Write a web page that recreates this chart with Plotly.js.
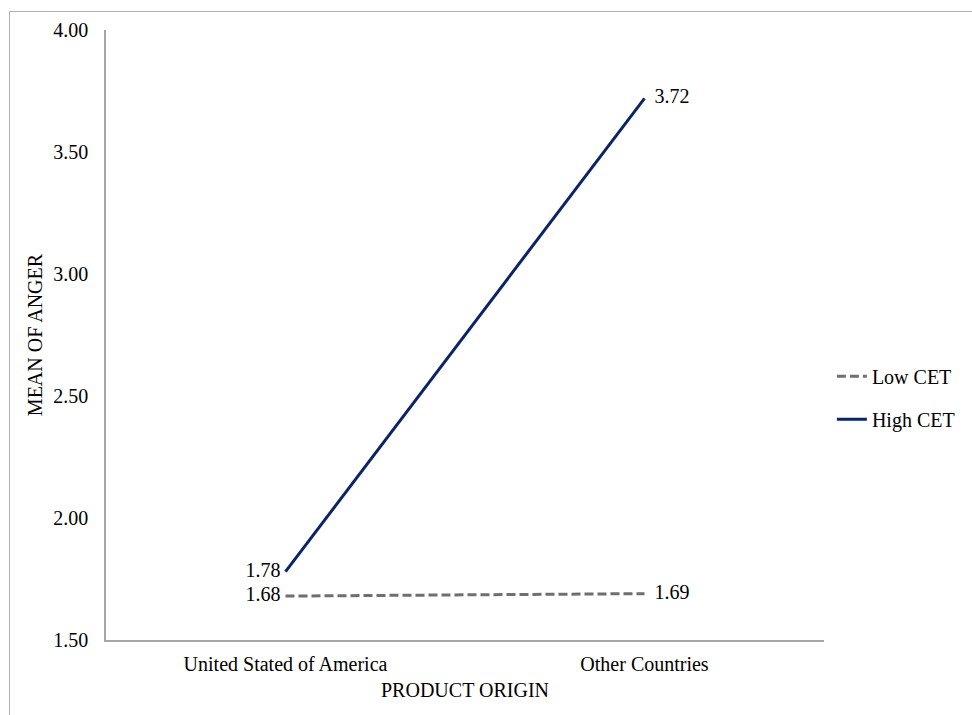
<!DOCTYPE html>
<html>
<head>
<meta charset="utf-8">
<script src="https://cdn.plot.ly/plotly-3.0.1.min.js"></script>
<style>
  html, body { margin: 0; padding: 0; background: #fff; }
  #wrap { position: relative; width: 972px; height: 715px; overflow: hidden; }
  #chart { position: absolute; left: 0; top: 0; width: 972px; height: 715px; }
  #frame { position: absolute; left: 9px; top: 11px; width: 990px; height: 740px;
           border: 1.5px solid #b0b0b0; pointer-events: none; box-sizing: border-box; }
</style>
</head>
<body>
<div id="wrap">
  <div id="chart"></div>
  <div id="frame"></div>
</div>
<script>
const categories = ["United Stated of America", "Other Countries"];
const lowCET = [1.68, 1.69];
const highCET = [1.78, 3.72];
const seriesNames = ["Low CET", "High CET"];
const yTicks = [1.5, 2.0, 2.5, 3.0, 3.5, 4.0];
const yTickLabels = ["1.50", "2.00", "2.50", "3.00", "3.50", "4.00"];

const font = "'Liberation Serif', 'Times New Roman', serif";
const NB = "\u00a0";
const labelText = vals => [vals[0].toFixed(2) + NB, NB + NB + vals[1].toFixed(2)];

const traces = [
  {
    x: categories, y: lowCET, name: seriesNames[0], type: "scatter",
    mode: "lines+text", legendgroup: "a",
    text: labelText(lowCET),
    textposition: ["middle left", "middle right"],
    textfont: { family: font, size: 20, color: "#000" },
    line: { color: "#6f6f6f", width: 3, dash: "9px,4px" },
    cliponaxis: false
  },
  {
    x: categories, y: highCET, name: seriesNames[1], type: "scatter",
    mode: "lines+text", legendgroup: "b",
    text: labelText(highCET),
    textposition: ["middle left", "middle right"],
    textfont: { family: font, size: 20, color: "#000" },
    line: { color: "#0a2466", width: 3 },
    cliponaxis: false
  }
];

const layout = {
  width: 972, height: 715,
  margin: { l: 106, r: 146, t: 30, b: 75 },
  paper_bgcolor: "#fff", plot_bgcolor: "#fff",
  font: { family: font, size: 20, color: "#000" },
  showlegend: true,
  legend: {
    x: 1.011, xanchor: "left", y: 0.397, yanchor: "middle",
    font: { family: font, size: 20, color: "#000" },
    tracegroupgap: 14, traceorder: "grouped",
    bgcolor: "rgba(0,0,0,0)"
  },
  xaxis: {
    type: "category", range: [-0.5, 1.5],
    showgrid: false, zeroline: false,
    showline: true, linecolor: "#a6a6a6", linewidth: 1.5,
    ticks: "", ticklabelstandoff: 5,
    tickfont: { family: font, size: 20, color: "#000" },
    title: { text: "PRODUCT ORIGIN", font: { family: font, size: 20, color: "#000" }, standoff: 9 }
  },
  yaxis: {
    range: [1.5, 4.0],
    tickvals: yTicks, ticktext: yTickLabels,
    showgrid: false, zeroline: false,
    showline: true, linecolor: "#a6a6a6", linewidth: 1.5,
    ticks: "", ticklabelstandoff: 12,
    tickfont: { family: font, size: 20, color: "#000" },
    title: { text: "MEAN OF ANGER", font: { family: font, size: 20, color: "#000" }, standoff: 5 }
  }
};

Plotly.newPlot("chart", traces, layout, { displayModeBar: false, responsive: false });
</script>
</body>
</html>
